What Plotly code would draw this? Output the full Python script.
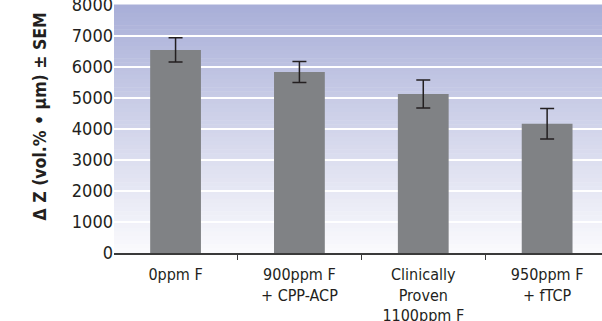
import plotly.graph_objects as go

categories = ["0ppm F", "900ppm F<br>+ CPP-ACP", "Clinically<br>Proven<br>1100ppm F", "950ppm F<br>+ fTCP"]
values = [6550, 5840, 5130, 4170]
sem = [390, 340, 450, 490]
y_ticks = [0, 1000, 2000, 3000, 4000, 5000, 6000, 7000, 8000]
y_title = "\u0394 Z (vol.% \u2022 \u00b5m) \u00b1 SEM"

FONT = "DejaVu Sans Condensed, Liberation Sans Narrow, sans-serif"
TXT = "#231f20"

fig = go.Figure()
fig.add_trace(go.Bar(
    x=categories, y=values, width=0.41,
    marker=dict(color="#808285", line=dict(width=0)),
    error_y=dict(type="data", array=sem, color=TXT, thickness=1.5, width=7),
))

# vertical gradient background (lavender top -> near white bottom)
top = (169, 175, 216)
bot = (250, 250, 253)
n = 60
shapes = []
for i in range(n):
    t = i / (n - 1)
    c = tuple(round(top[k] + (bot[k] - top[k]) * t) for k in range(3))
    shapes.append(dict(type="rect", xref="paper", yref="paper", x0=0, x1=1,
                       y0=1 - (i + 1) / n, y1=1 - i / n + 0.002,
                       fillcolor="rgb(%d,%d,%d)" % c, line=dict(width=0), layer="below"))

fig.update_layout(
    width=602, height=321,
    margin=dict(l=114, r=0, t=5, b=68),
    paper_bgcolor="white", plot_bgcolor="white",
    shapes=shapes, showlegend=False,
    font=dict(family=FONT, color=TXT, size=18),
    annotations=[dict(text="<b>" + y_title + "</b>", textangle=-90,
                      xref="paper", yref="paper", x=-0.152, y=0.55,
                      xanchor="center", yanchor="middle", showarrow=False,
                      font=dict(size=17.5, family=FONT, color=TXT))],
)
fig.update_xaxes(
    type="category", range=[-0.497, 3.443], showgrid=False, zeroline=False,
    showline=True, linecolor="#3a3a3a", linewidth=1.5,
    tickson="boundaries", ticks="outside", ticklen=5, tickwidth=1, tickcolor="#3a3a3a",
    tickfont=dict(size=16, family=FONT, color=TXT), automargin=False,
    ticklabelstandoff=6,
)
fig.update_yaxes(
    range=[0, 8000], tickvals=y_ticks, showgrid=True, gridcolor="white", gridwidth=1.8,
    zeroline=False, showline=False, ticks="", ticklabeloverflow="allow",
    tickfont=dict(size=18, family=FONT, color=TXT), automargin=False,
)
fig.write_html("out.html", config={"displayModeBar": False, "staticPlot": True},
               post_script="document.body.style.margin='0';document.body.style.overflow='hidden';")
